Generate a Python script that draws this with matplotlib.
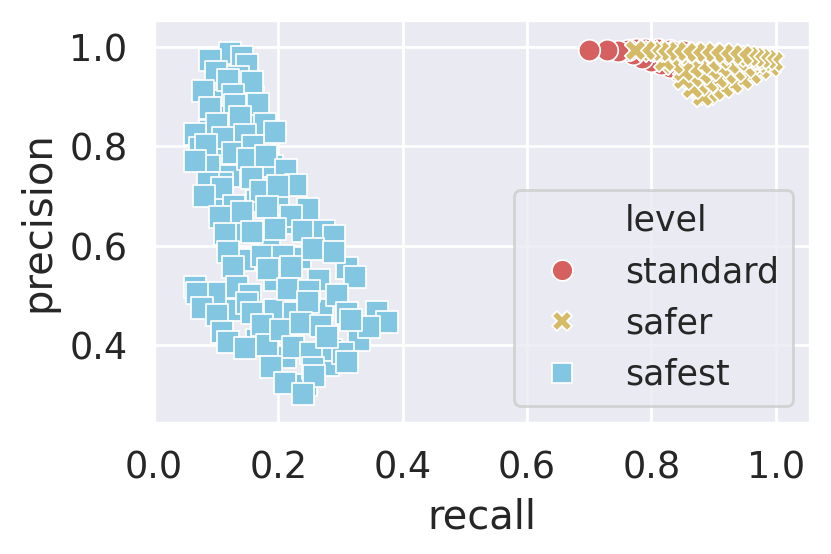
import matplotlib
matplotlib.use("Agg")
import matplotlib.pyplot as plt
from matplotlib.lines import Line2D
import seaborn as sns

# ── data ────────────────────────────────────────────────────────────────────
levels = ["standard", "safer", "safest"]

standard_recall = [0.885, 0.878, 0.873, 0.868, 0.862, 0.855, 0.845, 0.850, 0.830,
                   0.830, 0.815, 0.810, 0.800, 0.790, 0.785, 0.775, 0.770, 0.762,
                   0.747, 0.728, 0.700]
standard_precision = [0.915, 0.912, 0.920, 0.928, 0.936, 0.944, 0.952, 0.992, 0.960,
                      0.994, 0.966, 0.995, 0.972, 0.996, 0.978, 0.995, 0.985, 0.993,
                      0.992, 0.993, 0.993]

safer_recall = [0.990, 0.975, 0.960, 0.945, 0.930, 0.915, 0.900, 0.890, 0.882,
                0.970, 0.950, 0.935, 0.920, 0.905, 0.890, 0.875, 0.865,
                0.940, 0.925, 0.910, 0.895, 0.880, 0.865, 0.850,
                0.910, 0.895, 0.880, 0.865, 0.850, 0.835, 0.820,
                0.995, 0.985, 0.975, 0.965, 0.955, 0.945, 0.930, 0.915, 0.900,
                0.885, 0.870, 0.855, 0.840, 0.825, 0.812, 0.800, 0.790, 0.774]
safer_precision = [0.962, 0.955, 0.945, 0.935, 0.927, 0.920, 0.913, 0.906, 0.902,
                   0.968, 0.960, 0.952, 0.945, 0.937, 0.930, 0.923, 0.917,
                   0.972, 0.966, 0.960, 0.953, 0.946, 0.940, 0.935,
                   0.975, 0.970, 0.965, 0.958, 0.952, 0.965, 0.972,
                   0.972, 0.975, 0.978, 0.980, 0.982, 0.984, 0.986, 0.987, 0.988,
                   0.989, 0.990, 0.990, 0.991, 0.991, 0.992, 0.992, 0.993, 0.993]

safest_recall = [0.105, 0.160, 0.095, 0.120, 0.150, 0.090, 0.170, 0.105, 0.140,
                 0.190, 0.120, 0.095, 0.165, 0.200, 0.230, 0.135, 0.185, 0.260,
                 0.145, 0.235, 0.195, 0.265, 0.310, 0.085, 0.130, 0.195, 0.225,
                 0.270, 0.330, 0.165, 0.210, 0.280, 0.245, 0.285,
                 0.122, 0.141, 0.090, 0.149, 0.100, 0.135, 0.119, 0.157, 0.079, 0.127,
                 0.090, 0.130, 0.168, 0.139, 0.101, 0.178, 0.066, 0.146, 0.194, 0.111,
                 0.074, 0.083, 0.127, 0.160, 0.151, 0.180, 0.088, 0.212, 0.066, 0.157,
                 0.109, 0.229, 0.087, 0.109, 0.172, 0.080, 0.200, 0.181, 0.128, 0.106,
                 0.247, 0.141, 0.220, 0.157, 0.194, 0.239, 0.274, 0.290, 0.114, 0.119,
                 0.173, 0.207, 0.255, 0.290, 0.127, 0.183, 0.221, 0.324, 0.066, 0.133,
                 0.215, 0.250, 0.098, 0.154, 0.069, 0.295, 0.247, 0.077, 0.101, 0.149,
                 0.157, 0.173, 0.109, 0.119, 0.147, 0.181, 0.205, 0.236, 0.269, 0.224,
                 0.253, 0.255, 0.258, 0.188, 0.210, 0.239, 0.311, 0.304, 0.311, 0.359,
                 0.375, 0.346, 0.317, 0.279]
safest_precision = [0.960, 0.900, 0.890, 0.860, 0.840, 0.830, 0.820, 0.780, 0.760,
                    0.760, 0.740, 0.700, 0.690, 0.685, 0.645, 0.630, 0.610, 0.610,
                    0.570, 0.575, 0.530, 0.530, 0.555, 0.490, 0.470, 0.470, 0.465,
                    0.470, 0.410, 0.410, 0.375, 0.360, 0.320, 0.390,
                    0.988, 0.980, 0.973, 0.963, 0.950, 0.940, 0.933, 0.929, 0.912, 0.904,
                    0.876, 0.882, 0.884, 0.858, 0.844, 0.844, 0.825, 0.823, 0.829, 0.817,
                    0.797, 0.803, 0.786, 0.800, 0.774, 0.780, 0.760, 0.752, 0.770, 0.736,
                    0.725, 0.721, 0.725, 0.715, 0.709, 0.700, 0.720, 0.678, 0.680, 0.658,
                    0.674, 0.668, 0.660, 0.628, 0.634, 0.630, 0.630, 0.620, 0.624, 0.587,
                    0.579, 0.579, 0.593, 0.587, 0.557, 0.553, 0.557, 0.536, 0.516, 0.516,
                    0.512, 0.508, 0.505, 0.501, 0.505, 0.501, 0.487, 0.475, 0.461, 0.485,
                    0.465, 0.440, 0.427, 0.406, 0.394, 0.400, 0.431, 0.445, 0.439, 0.396,
                    0.384, 0.353, 0.337, 0.355, 0.323, 0.301, 0.465, 0.384, 0.366, 0.467,
                    0.447, 0.437, 0.451, 0.416]

colors = {"standard": "#d65f5f", "safer": "#d5bb67", "safest": "#82c6e2"}
markers = {"standard": "o", "safer": "X", "safest": "s"}

# ── figure ──────────────────────────────────────────────────────────────────
sns.set_theme(style="darkgrid", font_scale=1.2)
fig = plt.figure(figsize=(831 / 200, 554 / 200), dpi=200)
ax = fig.add_axes([0.1853, 0.2365, 0.7894, 0.7274])

s = 60
lw = 0.08 * s ** 0.5
data = {
    "standard": (standard_recall, standard_precision),
    "safer": (safer_recall, safer_precision),
    "safest": (safest_recall, safest_precision),
}
for lvl in levels:
    xs, ys = data[lvl]
    ax.scatter(xs, ys, s=s, marker=markers[lvl], color=colors[lvl],
               edgecolor="white", linewidth=lw)

ax.set_xlim(0.0, 1.055)
ax.set_ylim(0.243, 1.054)
ax.set_xticks([0.0, 0.2, 0.4, 0.6, 0.8, 1.0])
ax.set_yticks([0.4, 0.6, 0.8, 1.0])
ax.set_xlabel("recall")
ax.set_ylabel("precision")

# legend in the old seaborn style: the hue name is an entry with no handle
handles = [Line2D([], [], linestyle="none", marker="")]
labels = ["level"]
for lvl in levels:
    handles.append(Line2D([], [], linestyle="none", marker=markers[lvl],
                          markersize=7.5, color=colors[lvl],
                          markeredgecolor="white", markeredgewidth=lw))
    labels.append(lvl)
ax.legend(handles, labels, loc="lower right", fontsize=12.5)

fig.savefig("out.png", dpi=200)
